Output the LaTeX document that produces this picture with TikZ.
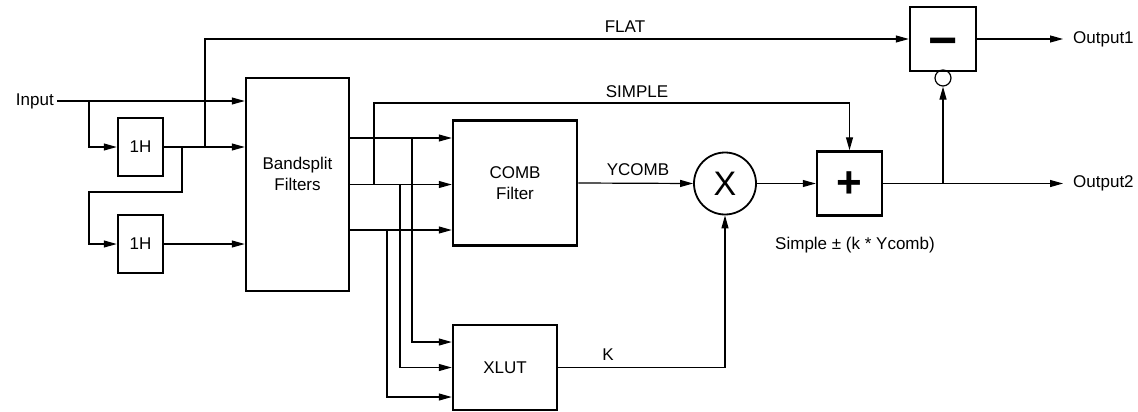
\documentclass[tikz,border=0pt]{standalone}
\usepackage{fontspec}
\setmainfont{Liberation Sans}
\usetikzlibrary{arrows.meta}
\begin{document}
\begin{tikzpicture}[x=1pt,y=-1pt,
  font=\fontsize{17}{21}\selectfont,
  wire/.style={line width=1.2pt},
  arr/.style={line width=1.2pt,-{Triangle[length=13pt,width=7pt]}},
  box/.style={draw,line width=2.5pt,inner sep=0pt,align=center},
  lbl/.style={inner sep=0pt}]
\useasboundingbox (0,0) rectangle (1138,412);
% nodes
\node[lbl,anchor=east,inner xsep=3pt] (in) at (57,101) {Input};
\node[box,minimum width=45pt,minimum height=58pt] (h1) at (140.5,147) {1H};
\node[box,minimum width=45pt,minimum height=58pt] (h2) at (140.5,244) {1H};
\node[box,minimum width=103pt,minimum height=213pt] (bs) at (297.5,184.5)
  {\raisebox{9pt}[\height][\depth]{\begin{tabular}{@{}c@{}}Bandsplit\\Filters\end{tabular}}};
\node[box,minimum width=124pt,minimum height=125pt] (comb) at (515,183) {COMB\\Filter};
\node[box,minimum width=104pt,minimum height=85pt] (xlut) at (505,367.5) {XLUT};
\node[draw,circle,line width=1.8pt,minimum size=62pt,inner sep=0pt,font=\fontsize{34}{34}\selectfont] (mul) at (725,183.5) {X};
\node[box,minimum width=65pt,minimum height=64pt,font=\fontsize{44}{44}\selectfont\bfseries] (add) at (849.5,183.5)
  {\raisebox{-1.5pt}[\height][\depth]{+}};
\node[box,minimum width=66pt,minimum height=64pt,font=\fontsize{50}{50}\selectfont\bfseries] (sub) at (943,39)
  {\raisebox{-9pt}[\height][\depth]{−}};
\node[draw,circle,line width=1.2pt,minimum size=16pt,inner sep=0pt] (inv) at (943,78) {};
\node[lbl,anchor=west] (o1) at (1073,39) {Output1};
\node[lbl,anchor=west] (o2) at (1073,183.5) {Output2};
\node[lbl] (lflat) at (625,27) {FLAT};
\node[lbl] (lsimple) at (637,92) {SIMPLE};
\node[lbl] (lycomb) at (638,170) {YCOMB};
\node[lbl] (lk) at (608,355) {K};
\node[lbl] (leq) at (855,245) {Simple ± (k * Ycomb)};
% junction coordinates
\coordinate (jin) at (89,101);
\coordinate (j2) at (182,147);
\coordinate (j3) at (89,192);
\coordinate (jf) at (205,147);
\coordinate (b1) at ([yshift=46.5pt]bs.east);
\coordinate (b2) at (bs.east);
\coordinate (b3) at ([yshift=-45.5pt]bs.east);
\coordinate (js) at (374,184.5);
\coordinate (sy) at (374,103);
\coordinate (x1) at (412,138);
\coordinate (x2) at (400,184.5);
\coordinate (x3) at (387,230);
\coordinate (xi1) at ([yshift=25.5pt]xlut.west);
\coordinate (xi2) at (xlut.west);
\coordinate (xi3) at ([yshift=-29.5pt]xlut.west);
\coordinate (jo) at (943,183.5);
% connectors
\draw[arr] (in.east) -- (in.east -| bs.west);
\draw[arr] (jin) |- (h1.west);
\draw[arr] (h1.east) -- (h1.east -| bs.west);
\draw[arr] (j2) |- (j3) |- (h2.west);
\draw[arr] (h2.east) -- (h2.east -| bs.west);
\draw[arr] (jf) |- (sub.west);
\draw[arr] (b1) -- (b1 -| comb.west);
\draw[arr] (b2) -- (b2 -| comb.west);
\draw[arr] (b3) -- (b3 -| comb.west);
\draw[arr] (js) -- (sy) -| (add.north);
\draw[arr] (x1) |- (xi1);
\draw[arr] (x2) |- (xi2);
\draw[arr] (x3) |- (xi3);
\draw[arr] (xlut.east) -| (mul.south);
\draw[arr] (comb.east) -- (mul.west);
\draw[arr] (mul.east) -- (add.west);
\draw[arr] (add.east) -- ([xshift=-10pt]o2.west);
\draw[arr] (jo) -- (inv.south);
\draw[arr] (sub.east) -- ([xshift=-10pt]o1.west);
\end{tikzpicture}
\end{document}
